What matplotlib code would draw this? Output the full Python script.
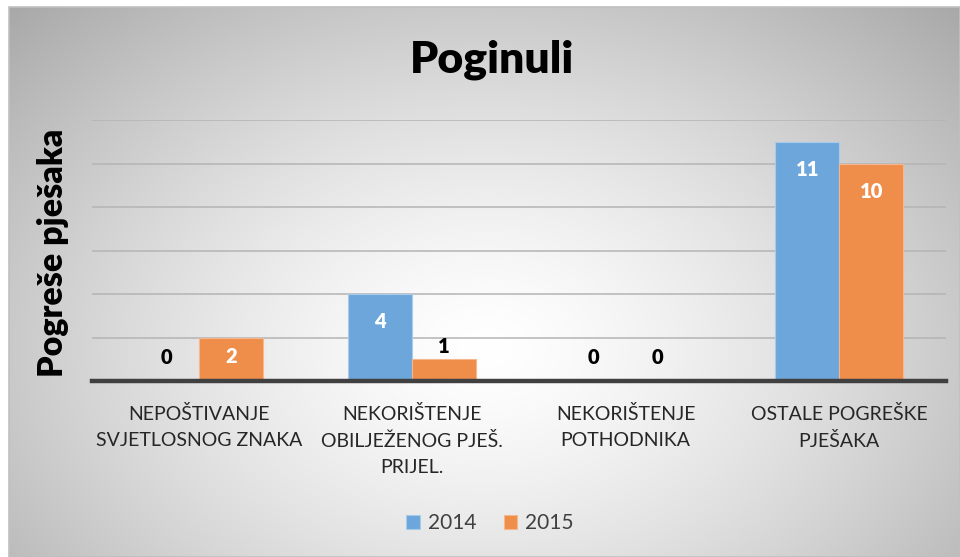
import numpy as np
import matplotlib
matplotlib.use("Agg")
import matplotlib.pyplot as plt
from matplotlib.patches import Rectangle

categories = ["NEPOŠTIVANJE\nSVJETLOSNOG ZNAKA",
              "NEKORIŠTENJE\nOBILJEŽENOG PJEŠ.\nPRIJEL.",
              "NEKORIŠTENJE\nPOTHODNIKA",
              "OSTALE POGREŠKE\nPJEŠAKA"]
series_names = ["2014", "2015"]
values_2014 = [0, 4, 0, 11]
values_2015 = [2, 1, 0, 10]
title = "Poginuli"
ylabel = "Pogreše pješaka"

plt.rcParams['font.family'] = ['Lato', 'DejaVu Sans']

W, H = 960, 557
fig = plt.figure(figsize=(W / 100, H / 100), dpi=100)
fig.patch.set_facecolor("white")

# background gradient panel
bx0, by0 = 9, 7
bg = fig.add_axes([bx0 / W, 0, 1 - bx0 / W, 1 - by0 / H], zorder=-10)
ny, nx = 300, 500
yy, xx = np.mgrid[0:ny, 0:nx]
cx, cy = nx * 0.50, ny * 0.62
r = np.sqrt(((xx - cx) / (nx * 0.5)) ** 2 + ((yy - cy) / (ny * 0.62)) ** 2)
v = 1 - 0.21 * np.clip(r, 0, 1.5) ** 1.4
img = np.dstack([v, v, v])
bg.imshow(img, aspect="auto", extent=[0, 1, 0, 1], origin="upper", interpolation="bilinear")
bg.set_xlim(0, 1); bg.set_ylim(0, 1)
bg.axis("off")
fig.add_artist(Rectangle((bx0 / W, 0), 1 - bx0 / W, 1 - by0 / H, transform=fig.transFigure,
                         fill=False, edgecolor="#c0c0c0", linewidth=1.2, zorder=-5))

left, right = 92 / W, 946 / W
bottom, top = 1 - 381 / H, 1 - 120 / H
ax = fig.add_axes([left, bottom, right - left, top - bottom])
ax.set_facecolor("none")

x = np.arange(len(categories))
bw = 0.30
c14, c15 = "#6CA6DA", "#EF8D4B"
b1 = ax.bar(x - bw / 2, values_2014, bw, color=c14, edgecolor="#a9cbea", linewidth=0.8, zorder=3, label=series_names[0])
b2 = ax.bar(x + bw / 2, values_2015, bw, color=c15, edgecolor="#f5b88e", linewidth=0.8, zorder=3, label=series_names[1])

ax.set_xlim(-0.5, len(categories) - 0.5)
ax.set_ylim(0, 12)
ax.set_yticks(np.arange(0, 13, 2))
ax.yaxis.grid(True, color="#b4b4b4", linewidth=1.1, zorder=0)
ax.set_axisbelow(True)
ax.tick_params(axis="y", left=False, labelleft=False)
ax.tick_params(axis="x", bottom=False, pad=14)
for s in ["top", "right", "left"]:
    ax.spines[s].set_visible(False)
ax.spines["bottom"].set_color("#404040")
ax.spines["bottom"].set_linewidth(3.2)
ax.spines["bottom"].set_zorder(5)
ax.set_xticks(x)
ax.set_xticklabels(categories, fontsize=14, color="#262626", linespacing=1.6, va="top")

def label(bars, vals):
    for b, val in zip(bars, vals):
        xc = b.get_x() + b.get_width() / 2
        if val == 0:
            off, col = 17, "black"
        elif val == 1:
            off, col = 9, "black"
        elif val == 2:
            off, col = -14, "white"
        else:
            off, col = -20, "white"
        ax.annotate(str(val), (xc, val), xytext=(0, off), textcoords="offset points",
                    ha="center", va="center", fontsize=14.5, fontweight="heavy", color=col)

label(b1, values_2014)
label(b2, values_2015)

fig.text(492 / W, 1 - 60 / H, title, ha="center", va="center", fontsize=32, fontweight="heavy", color="black")
fig.text(53 / W, 1 - 253 / H, ylabel, ha="center", va="center", rotation=90, fontsize=24.5,
         fontweight="heavy", color="black")

leg = fig.legend(handles=[b1, b2], labels=series_names, loc="center", bbox_to_anchor=(490 / W, 1 - 523 / H),
                 ncol=2, frameon=False, fontsize=15, handlelength=0.65, handleheight=0.65,
                 handletextpad=0.4, columnspacing=1.3)
for t in leg.get_texts():
    t.set_color("#404040")

fig.savefig("out.png", dpi=100)
